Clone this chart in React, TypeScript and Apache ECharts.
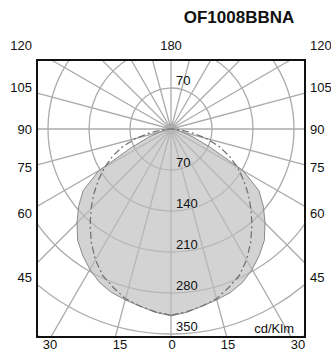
import React, { useEffect, useRef } from "react";
import * as echarts from "echarts";

// ---- data ----
const TITLE = "OF1008BBNA";
const UNIT = "cd/Klm";
const ANGLES = [0, 5, 10, 15, 20, 25, 30, 35, 40, 45, 50, 55, 60, 65, 70, 75, 80, 85, 90];
// C0-C180 plane (filled)
const C0_VALUES = [319, 314, 307, 302, 297, 289, 277, 263, 248, 227, 206, 183, 142, 74, 40, 20, 10, 5, 2];
// C90-C270 plane (dash-dot)
const C90_VALUES = [318, 313, 307, 300, 288, 276, 258, 237, 215, 193, 172, 151, 131, 110, 88, 62, 36, 14, 3];
const RING_VALUES = [70, 140, 210, 280, 350];
const RING_LABELS_BELOW = ["70", "140", "210", "280", "350"];
const RING_LABEL_ABOVE = "70";
const SIDE_LABELS = ["120", "105", "90", "75", "60", "45"];
const BOTTOM_LABELS = ["30", "15", "0", "15", "30"];
const TOP_LABEL = "180";

// ---- layout ----
const W = 331;
const H = 352;
const BOX = { x: 37, y: 60, w: 268, h: 277 };
const CENTER = [171, 129];
const RADIUS_MAX = 490;
const PX_PER_UNIT = 41 / 70;
const SIDE_LABEL_Y = [45, 87, 129, 167, 213, 277];
const BOTTOM_LABEL_X = [50, 120, 172, 228, 298];
const FONT = '"Liberation Sans", Arial, sans-serif';

function buildLoop(values: number[]) {
  const pts: [number, number][] = [];
  const step = ANGLES[1] - ANGLES[0];
  // left half: angle 0..180
  for (let a = 0; a <= 180; a += step) {
    const i = a / step;
    const v = i < values.length ? values[i] : 0;
    pts.push([v, a]);
  }
  // right half: angle 180..360
  for (let a = 180; a >= 0; a -= step) {
    const i = a / step;
    const v = i < values.length ? values[i] : 0;
    pts.push([v, 360 - a]);
  }
  return pts;
}

export default function App() {
  const ref = useRef<HTMLDivElement>(null);
  useEffect(() => {
    if (!ref.current) return;
    const chart = echarts.init(ref.current, null, { renderer: "svg" });
    const grid = { color: "#ababab", width: 1.3 };
    chart.setOption({
      animation: false,
      polar: { center: CENTER, radius: RADIUS_MAX * PX_PER_UNIT },
      angleAxis: {
        type: "value",
        min: 0,
        max: 360,
        interval: 15,
        startAngle: 270,
        clockwise: true,
        axisLine: { show: false },
        axisTick: { show: false },
        axisLabel: { show: false },
        splitLine: { show: true, lineStyle: grid },
      },
      radiusAxis: {
        type: "value",
        min: 0,
        max: RADIUS_MAX,
        interval: 70,
        axisLine: { show: false },
        axisTick: { show: false },
        axisLabel: { show: false },
        splitLine: { show: true, lineStyle: grid },
      },
      series: [
        {
          type: "line",
          coordinateSystem: "polar",
          data: buildLoop(C0_VALUES),
          symbol: "none",
          lineStyle: { color: "#8a8a8a", width: 1 },
          areaStyle: { color: "#bcbcbc", opacity: 0.66 },
          z: 3,
        },
        {
          type: "line",
          coordinateSystem: "polar",
          data: buildLoop(C90_VALUES),
          symbol: "none",
          lineStyle: { color: "#6e6e6e", width: 1.2, type: [7, 3, 2, 3] },
          z: 4,
        },
      ],
    });

    const txt = (text: string, x: number, y: number, align: string, vAlign: string, size = 13, weight = "normal") => ({
      type: "text",
      x,
      y,
      z: 110,
      style: {
        text,
        fill: "#111",
        font: `${weight} ${size}px ${FONT}`,
        align,
        verticalAlign: vAlign,
        textAlign: align,
        textVerticalAlign: vAlign,
      },
    });

    const g: any[] = [];
    const mask = (x: number, y: number, w: number, h: number) => ({
      type: "rect",
      z: 100,
      shape: { x, y, width: w, height: h },
      style: { fill: "#ffffff" },
    });
    g.push(mask(0, 0, W, BOX.y));
    g.push(mask(0, BOX.y + BOX.h, W, H - BOX.y - BOX.h));
    g.push(mask(0, 0, BOX.x, H));
    g.push(mask(BOX.x + BOX.w, 0, W - BOX.x - BOX.w, H));
    g.push({
      type: "rect",
      z: 105,
      shape: { x: BOX.x, y: BOX.y, width: BOX.w, height: BOX.h },
      style: { fill: "none", stroke: "#111", lineWidth: 2 },
    });

    // ring labels
    RING_VALUES.forEach((r, i) => {
      const p = chart.convertToPixel({ polarIndex: 0 } as any, [r, 0]) as number[];
      g.push(txt(RING_LABELS_BELOW[i], p[0] + 5, p[1] - 1, "left", "bottom"));
    });
    const pTop = chart.convertToPixel({ polarIndex: 0 } as any, [RING_VALUES[0], 180]) as number[];
    g.push(txt(RING_LABEL_ABOVE, pTop[0] + 5, pTop[1] - 1, "left", "bottom"));

    SIDE_LABELS.forEach((l, i) => {
      g.push(txt(l, BOX.x - 5, SIDE_LABEL_Y[i], "right", "middle"));
      g.push(txt(l, BOX.x + BOX.w + 5, SIDE_LABEL_Y[i], "left", "middle"));
    });
    BOTTOM_LABELS.forEach((l, i) => {
      g.push(txt(l, BOTTOM_LABEL_X[i], 344, "center", "middle"));
    });
    g.push(txt(TOP_LABEL, CENTER[0], 45, "center", "middle"));
    g.push(txt(UNIT, 294, 328, "right", "middle"));
    g.push(txt(TITLE, 239, 17, "center", "middle", 17, "bold"));

    chart.setOption({ graphic: { elements: g } });
    return () => chart.dispose();
  }, []);
  return (
    <div
      ref={ref}
      style={{ position: "absolute", left: 0, top: 0, width: W, height: H, background: "#fff" }}
    />
  );
}
